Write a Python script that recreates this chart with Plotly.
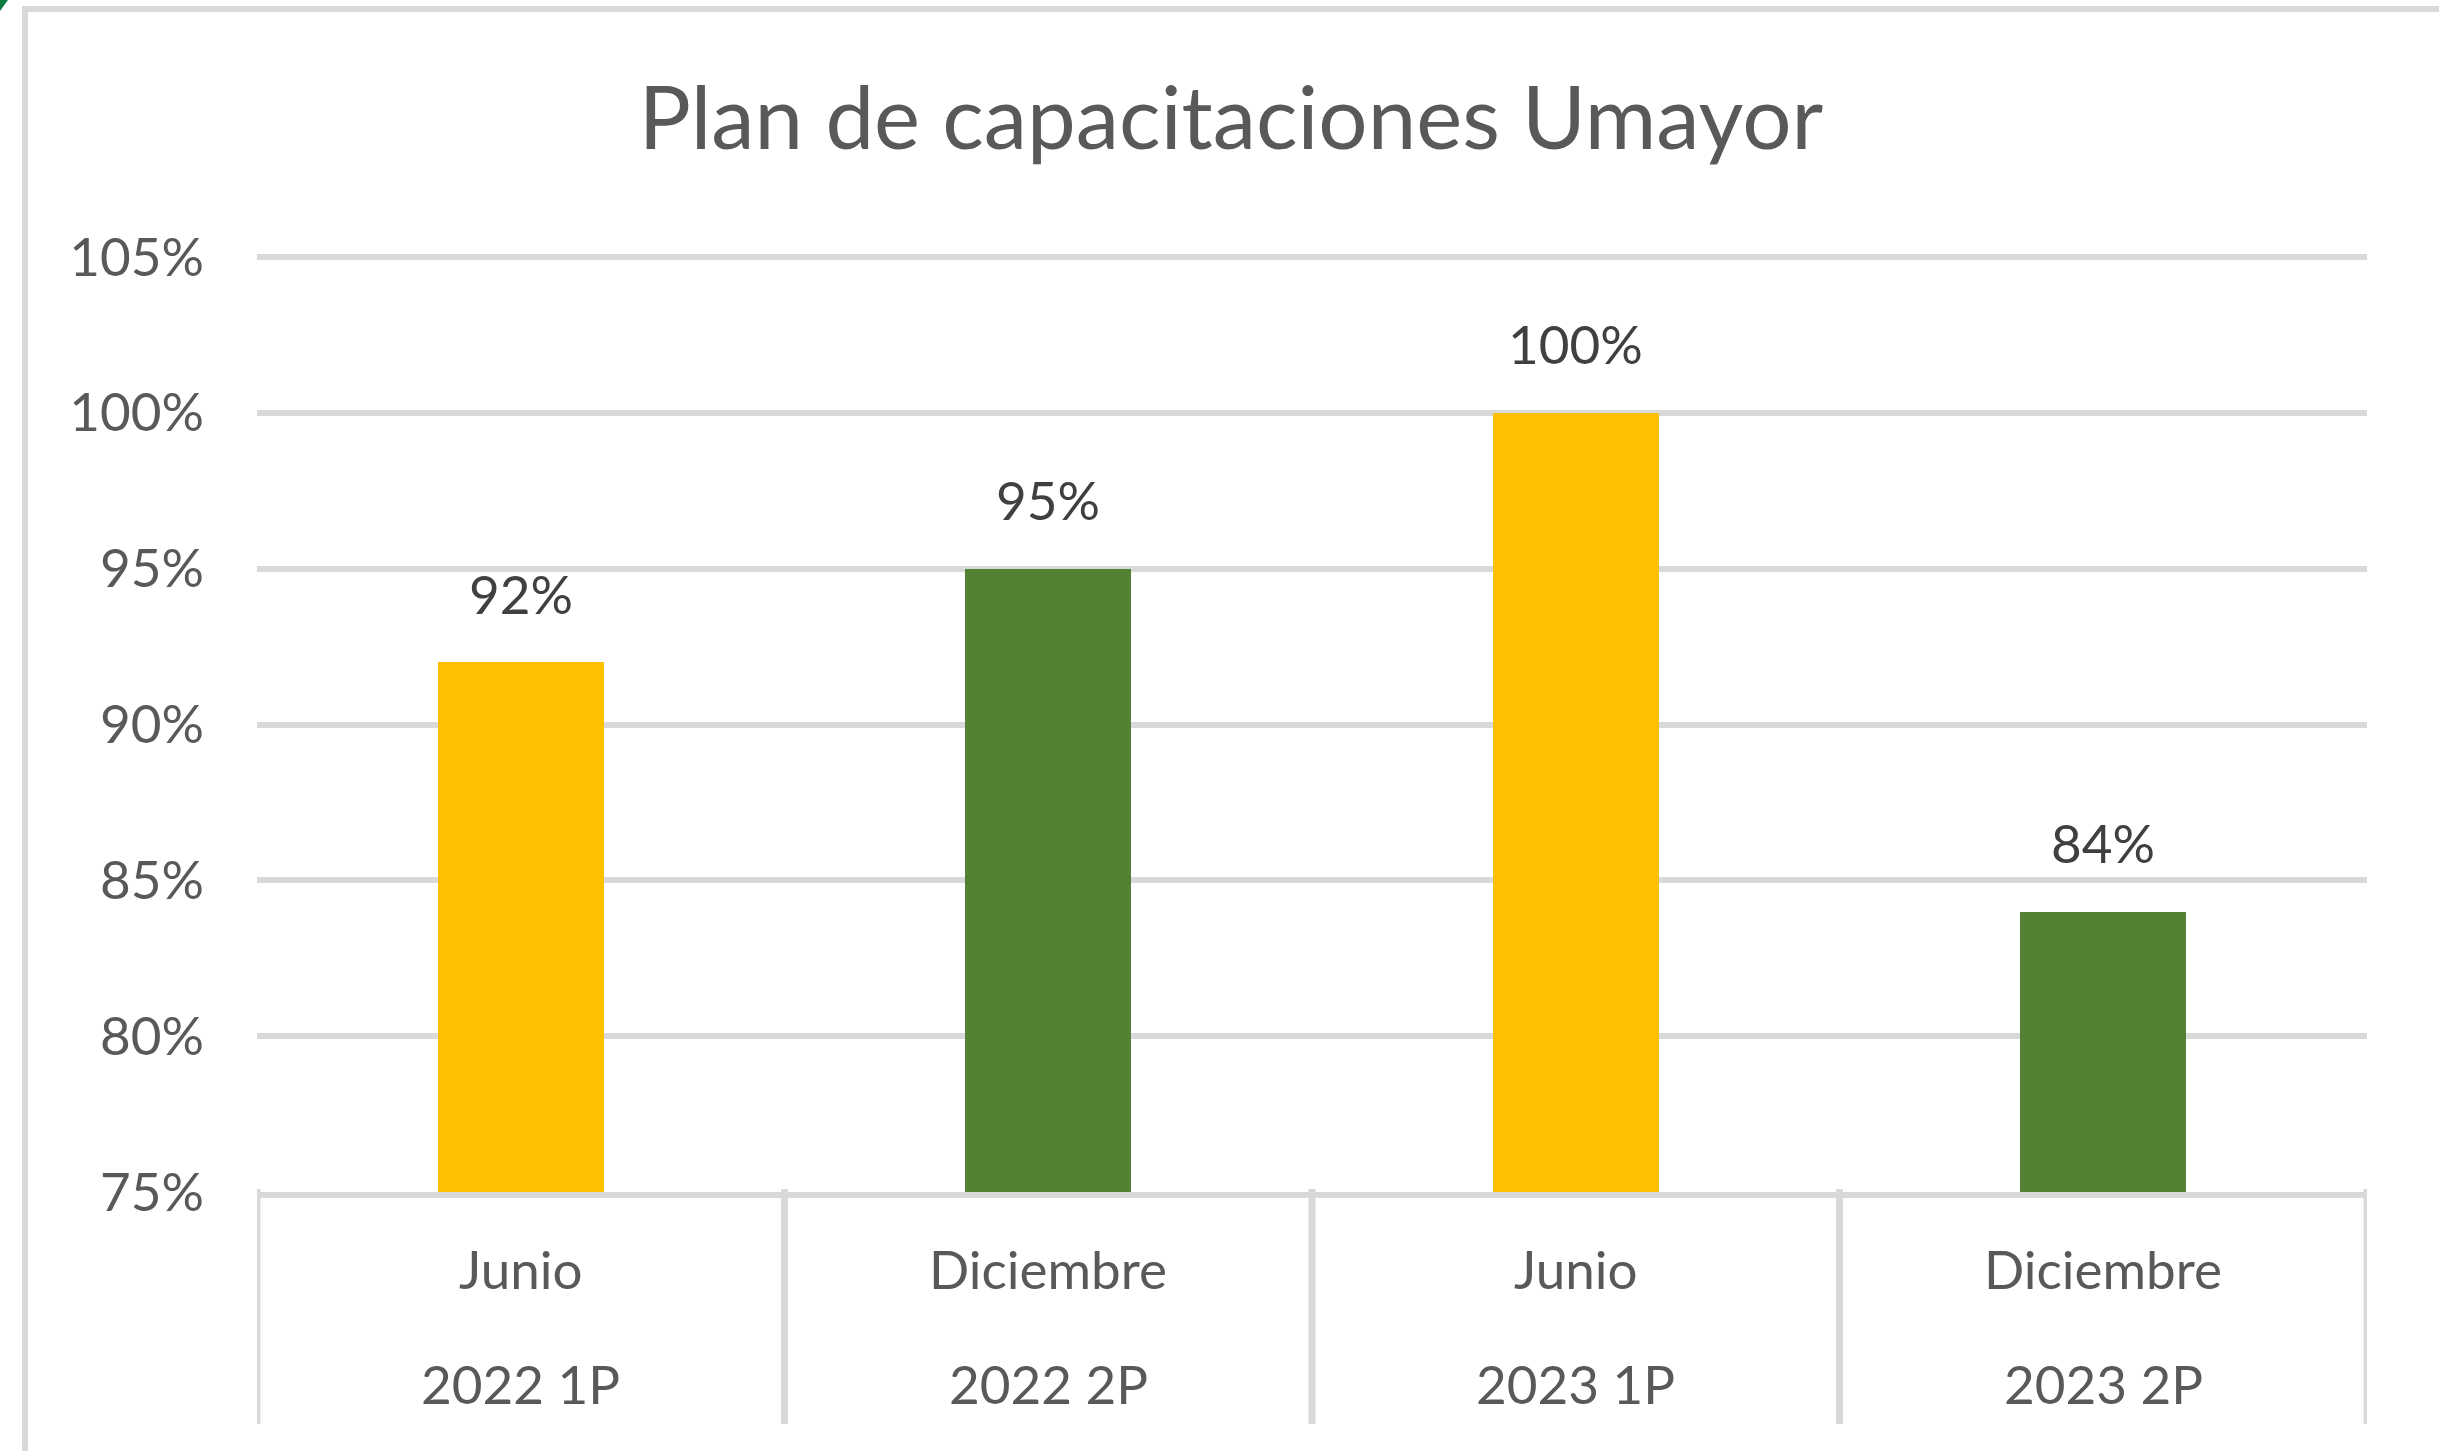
import plotly.graph_objects as go

# ---- data ----
months = ["Junio", "Diciembre", "Junio", "Diciembre"]
periods = ["2022 1P", "2022 2P", "2023 1P", "2023 2P"]
values = [0.92, 0.95, 1.00, 0.84]
bar_colors = ["#FFC000", "#548235", "#FFC000", "#548235"]
y_ticks = [0.75, 0.80, 0.85, 0.90, 0.95, 1.00, 1.05]
title_text = "Plan de capacitaciones Umayor"

# ---- layout geometry (pixels) ----
W, H = 2439, 1451
L, R, B = 257, 2367, 1192          # plot area left/right/bottom
Y_MIN, Y_MAX, Y_MAX_PX = 0.75, 1.05, 257  # 105% gridline sits at pixel 257
T = 253                              # plot top a bit above so the top gridline is drawn
PW, PH = R - L, B - T
y_top = Y_MIN + (Y_MAX - Y_MIN) * (B - T) / (B - Y_MAX_PX)


def px(x):
    return (x - L) / PW


def py(y):
    return (B - y) / PH


FONT = "Lato, 'Open Sans', sans-serif"
GRID = "#D9D9D9"
TXT = "#595959"

fig = go.Figure()
fig.add_trace(go.Bar(
    x=periods, y=values, marker=dict(color=bar_colors, line=dict(width=0)),
    width=0.315, hoverinfo="skip",
))

annotations = []
# data labels
for p, v in zip(periods, values):
    annotations.append(dict(
        x=p, y=v, xref="x", yref="y", text=f"{round(v*100)}%",
        showarrow=False, yanchor="middle", xanchor="center", yshift=69,
        font=dict(family=FONT, size=53, color="#404040"),
    ))
# two-level category labels
for p, m in zip(periods, months):
    annotations.append(dict(
        x=p, y=py(1268), xref="x", yref="paper", text=m, showarrow=False,
        yanchor="middle", xanchor="center",
        font=dict(family=FONT, size=53, color=TXT),
    ))
    annotations.append(dict(
        x=p, y=py(1383), xref="x", yref="paper", text=p, showarrow=False,
        yanchor="middle", xanchor="center",
        font=dict(family=FONT, size=53, color=TXT),
    ))

shapes = []
# category dividers
for i in range(len(periods) + 1):
    shapes.append(dict(
        type="line", xref="x", yref="paper", x0=i - 0.5, x1=i - 0.5,
        y0=py(1189), y1=py(1424), line=dict(color=GRID, width=7), layer="above",
    ))
# chart frame (top and left edges visible)
shapes.append(dict(type="line", xref="paper", yref="paper", x0=px(22), x1=px(2460),
                   y0=py(9), y1=py(9), line=dict(color=GRID, width=6)))
shapes.append(dict(type="line", xref="paper", yref="paper", x0=px(25), x1=px(25),
                   y0=py(6), y1=py(1470), line=dict(color=GRID, width=6)))
# small green corner mark
shapes.append(dict(type="path", xref="paper", yref="paper",
                   path=f"M {px(0)} {py(0)} L {px(8)} {py(0)} L {px(0)} {py(11)} Z",
                   fillcolor="#107C41", line=dict(width=0)))

fig.update_layout(
    width=W, height=H,
    margin=dict(l=L, r=W - R, t=T, b=H - B, autoexpand=False),
    paper_bgcolor="white", plot_bgcolor="white",
    showlegend=False,
    title=dict(text=title_text, x=1231 / W, y=1 - 119 / H, xref="container", yref="container",
               xanchor="center", yanchor="middle",
               font=dict(family=FONT, size=87, color=TXT)),
    xaxis=dict(
        type="category", range=[-0.5, len(periods) - 0.5], showticklabels=False,
        showgrid=False, zeroline=False, ticks="",
        showline=True, linecolor=GRID, linewidth=6,
    ),
    yaxis=dict(
        range=[Y_MIN, y_top], tickvals=y_ticks, tickformat=".0%",
        showgrid=True, gridcolor=GRID, gridwidth=6, zeroline=False,
        showline=False, ticks="", ticklabelstandoff=52,
        tickfont=dict(family=FONT, size=53, color=TXT),
    ),
    annotations=annotations, shapes=shapes,
    bargap=0,
)

fig.write_html(
    "out.html",
    config={"displayModeBar": False},
    post_script="document.body.style.margin='0';document.body.style.overflow='hidden';",
)
